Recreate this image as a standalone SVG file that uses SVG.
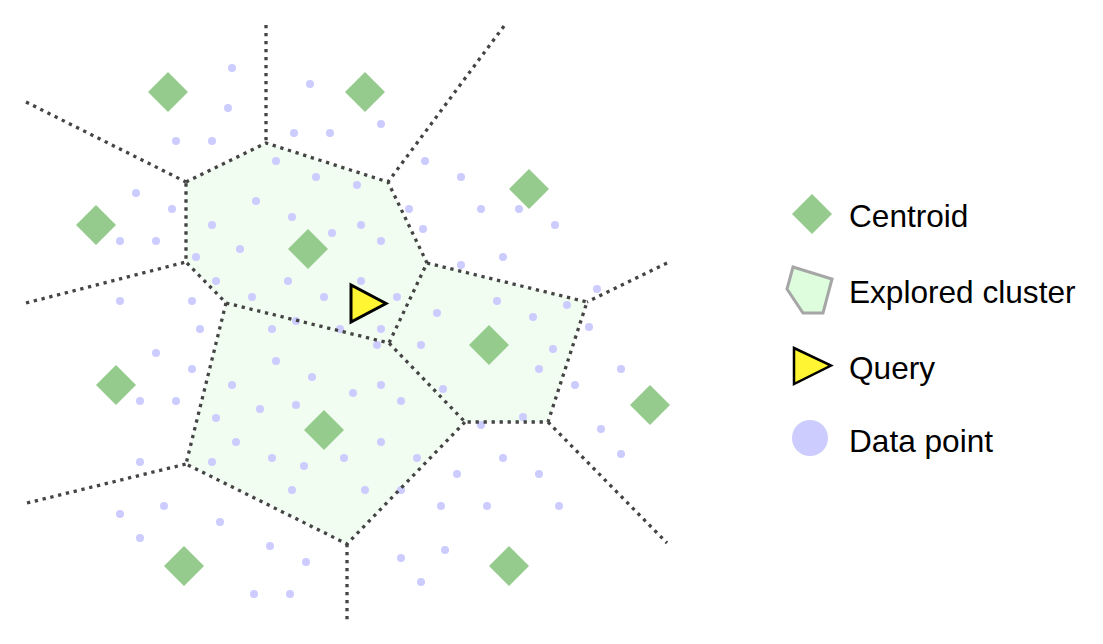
<svg xmlns="http://www.w3.org/2000/svg" width="1103" height="644" viewBox="0 0 1103 644">
<style>
.cell{fill:#f2fdf2;stroke:none}
.edge{fill:none;stroke:#444;stroke-width:3.3;stroke-dasharray:3.3 4.7}
.pt{fill:#ccccff}
.cen{fill:#96cb8e}
.lbl{font-family:"Liberation Sans",Arial,sans-serif;font-size:31.6px;fill:#000}
</style>
<defs>
<polygon id="dia" points="0,-20 20,0 0,20 -20,0"/>
</defs>
<rect width="1103" height="644" fill="#fff"/>
<g id="clusters">
<polygon class="cell" points="186,182 266,143 388,182 427,263 389,343 226,303 186,262"/>
<polygon class="cell" points="427,263 587,302 548,422 465,422 389,343"/>
<polygon class="cell" points="226,303 389,343 465,422 347,544 186,464"/>
</g>
<g id="points">
<circle class="pt" cx="232" cy="68" r="4"/><circle class="pt" cx="310" cy="84" r="4"/><circle class="pt" cx="228" cy="108" r="4"/>
<circle class="pt" cx="176" cy="141" r="4"/><circle class="pt" cx="212" cy="141" r="4"/><circle class="pt" cx="294" cy="133" r="4"/>
<circle class="pt" cx="330" cy="133" r="4"/><circle class="pt" cx="276" cy="161" r="4"/><circle class="pt" cx="316" cy="177" r="4"/>
<circle class="pt" cx="136" cy="193" r="4"/><circle class="pt" cx="172" cy="209" r="4"/><circle class="pt" cx="256" cy="201" r="4"/>
<circle class="pt" cx="292" cy="217" r="4"/><circle class="pt" cx="381" cy="124" r="4"/><circle class="pt" cx="425" cy="161" r="4"/>
<circle class="pt" cx="461" cy="177" r="4"/><circle class="pt" cx="357" cy="185" r="4"/><circle class="pt" cx="409" cy="209" r="4"/>
<circle class="pt" cx="481" cy="209" r="4"/><circle class="pt" cx="519" cy="209" r="4"/>
<circle class="pt" cx="120" cy="241" r="4"/><circle class="pt" cx="156" cy="241" r="4"/><circle class="pt" cx="212" cy="225" r="4"/>
<circle class="pt" cx="332" cy="233" r="4"/><circle class="pt" cx="240" cy="249" r="4"/><circle class="pt" cx="196" cy="257" r="4"/>
<circle class="pt" cx="216" cy="281" r="4"/><circle class="pt" cx="288" cy="281" r="4"/><circle class="pt" cx="252" cy="297" r="4"/>
<circle class="pt" cx="324" cy="297" r="4"/><circle class="pt" cx="120" cy="301" r="4"/><circle class="pt" cx="192" cy="301" r="4"/>
<circle class="pt" cx="200" cy="329" r="4"/><circle class="pt" cx="272" cy="329" r="4"/><circle class="pt" cx="296" cy="321" r="4"/>
<circle class="pt" cx="340" cy="329" r="4"/><circle class="pt" cx="156" cy="353" r="4"/><circle class="pt" cx="276" cy="361" r="4"/>
<circle class="pt" cx="192" cy="369" r="4"/><circle class="pt" cx="312" cy="377" r="4"/><circle class="pt" cx="232" cy="385" r="4"/>
<circle class="pt" cx="140" cy="401" r="4"/><circle class="pt" cx="176" cy="401" r="4"/><circle class="pt" cx="260" cy="409" r="4"/>
<circle class="pt" cx="296" cy="405" r="4"/><circle class="pt" cx="216" cy="418" r="4"/>
<circle class="pt" cx="361" cy="225" r="4"/><circle class="pt" cx="423" cy="229" r="4"/><circle class="pt" cx="555" cy="225" r="4"/>
<circle class="pt" cx="381" cy="241" r="4"/><circle class="pt" cx="503" cy="257" r="4"/><circle class="pt" cx="461" cy="265" r="4"/>
<circle class="pt" cx="361" cy="281" r="4"/><circle class="pt" cx="397" cy="297" r="4"/><circle class="pt" cx="497" cy="301" r="4"/>
<circle class="pt" cx="597" cy="289" r="4"/><circle class="pt" cx="567" cy="305" r="4"/><circle class="pt" cx="437" cy="313" r="4"/>
<circle class="pt" cx="533" cy="317" r="4"/><circle class="pt" cx="381" cy="329" r="4"/><circle class="pt" cx="589" cy="327" r="4"/>
<circle class="pt" cx="377" cy="345" r="4"/><circle class="pt" cx="421" cy="345" r="4"/><circle class="pt" cx="553" cy="349" r="4"/>
<circle class="pt" cx="539" cy="369" r="4"/><circle class="pt" cx="621" cy="369" r="4"/><circle class="pt" cx="381" cy="385" r="4"/>
<circle class="pt" cx="443" cy="389" r="4"/><circle class="pt" cx="575" cy="385" r="4"/><circle class="pt" cx="353" cy="393" r="4"/>
<circle class="pt" cx="401" cy="401" r="4"/><circle class="pt" cx="523" cy="417" r="4"/><circle class="pt" cx="481" cy="425" r="4"/>
<circle class="pt" cx="601" cy="429" r="4"/>
<circle class="pt" cx="236" cy="442" r="4"/><circle class="pt" cx="140" cy="462" r="4"/><circle class="pt" cx="212" cy="462" r="4"/>
<circle class="pt" cx="272" cy="458" r="4"/><circle class="pt" cx="304" cy="466" r="4"/><circle class="pt" cx="344" cy="458" r="4"/>
<circle class="pt" cx="292" cy="490" r="4"/><circle class="pt" cx="164" cy="506" r="4"/><circle class="pt" cx="120" cy="514" r="4"/>
<circle class="pt" cx="220" cy="522" r="4"/><circle class="pt" cx="140" cy="538" r="4"/><circle class="pt" cx="270" cy="546" r="4"/>
<circle class="pt" cx="306" cy="562" r="4"/><circle class="pt" cx="254" cy="594" r="4"/><circle class="pt" cx="290" cy="594" r="4"/>
<circle class="pt" cx="381" cy="442" r="4"/><circle class="pt" cx="417" cy="458" r="4"/><circle class="pt" cx="503" cy="458" r="4"/>
<circle class="pt" cx="621" cy="454" r="4"/><circle class="pt" cx="457" cy="474" r="4"/><circle class="pt" cx="539" cy="474" r="4"/>
<circle class="pt" cx="365" cy="490" r="4"/><circle class="pt" cx="401" cy="490" r="4"/><circle class="pt" cx="441" cy="506" r="4"/>
<circle class="pt" cx="487" cy="506" r="4"/><circle class="pt" cx="559" cy="506" r="4"/><circle class="pt" cx="401" cy="558" r="4"/>
<circle class="pt" cx="445" cy="550" r="4"/><circle class="pt" cx="421" cy="582" r="4"/>
</g>
<g id="connectors">
<polyline class="edge" points="186,182 266,143 388,182 427,263 389,343 226,303 186,262 186,182"/>
<polyline class="edge" points="427,263 587,302 548,422 465,422 389,343"/>
<polyline class="edge" points="226,303 186,464 347,544 465,422"/>
<line class="edge" x1="26" y1="102" x2="186" y2="182"/>
<line class="edge" x1="266" y1="25" x2="266" y2="143"/>
<line class="edge" x1="504" y1="26" x2="388" y2="182"/>
<line class="edge" x1="26" y1="303" x2="186" y2="262"/>
<line class="edge" x1="667" y1="263" x2="587" y2="302"/>
<line class="edge" x1="548" y1="422" x2="667" y2="543"/>
<line class="edge" x1="347" y1="544" x2="347" y2="620"/>
<line class="edge" x1="27" y1="503" x2="186" y2="464"/>
</g>
<g id="centroids">
<use href="#dia" class="cen" x="168" y="92"/>
<use href="#dia" class="cen" x="365" y="92"/>
<use href="#dia" class="cen" x="96" y="225"/>
<use href="#dia" class="cen" x="529" y="189"/>
<use href="#dia" class="cen" x="308" y="249"/>
<use href="#dia" class="cen" x="489" y="345"/>
<use href="#dia" class="cen" x="116" y="385"/>
<use href="#dia" class="cen" x="324" y="430"/>
<use href="#dia" class="cen" x="650" y="405"/>
<use href="#dia" class="cen" x="184" y="566"/>
<use href="#dia" class="cen" x="509" y="566"/>
</g>
<g id="query">
<polygon points="351,285 351,322 386,303.5" fill="#fff533" stroke="#000" stroke-width="3" stroke-linejoin="miter"/>
</g>
<g id="legend">
<g id="legend-centroid">
<use href="#dia" class="cen" x="812" y="214"/>
<text class="lbl" x="849" y="227">Centroid</text>
</g>
<g id="legend-cluster">
<polygon points="793,267 832,279 823,313 803,313 787,289" fill="#ddfddd" stroke="#a6a6a6" stroke-width="3"/>
<text class="lbl" x="849" y="303">Explored cluster</text>
</g>
<g id="legend-query">
<polygon points="794,348 831,365.5 794,384" fill="#fff533" stroke="#000" stroke-width="2.5"/>
<text class="lbl" x="849" y="379">Query</text>
</g>
<g id="legend-point">
<circle cx="810" cy="438" r="18" class="pt"/>
<text class="lbl" x="849" y="452">Data point</text>
</g>
</g>
</svg>
